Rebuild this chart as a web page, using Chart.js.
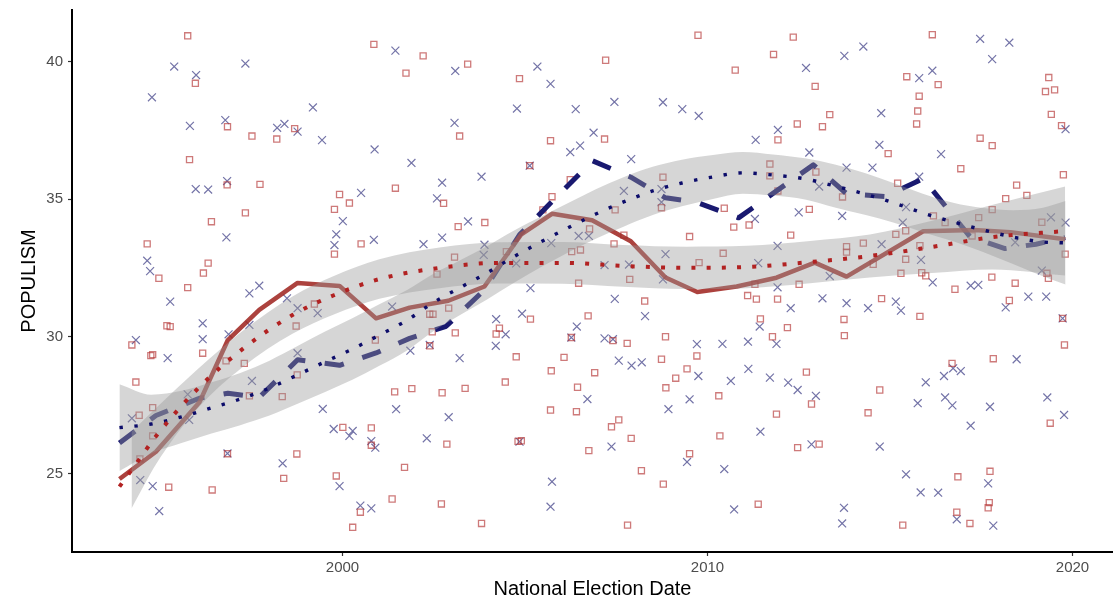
<!DOCTYPE html>
<html><head><meta charset="utf-8">
<script src="https://cdn.jsdelivr.net/npm/chart.js@4.4.1/dist/chart.umd.min.js"></script>
<style>html,body{margin:0;padding:0;background:#fff}canvas{display:block}</style>
</head><body>
<canvas id="c" width="1113" height="599"></canvas>
<script>
const xTicks = [2000, 2010, 2020];
const yTicks = [25, 30, 35, 40];

// red squares (election date, populism)
const redPtX = [1995.76,2000.86,1995.97,1996.85,1997.52,1998.20,1998.69,1995.81,1997.74,1996.84,1999.92,2000.19,1999.78,1997.34,1996.41,1994.65,2000.51,1999.78,1996.32,1996.19,1994.97,1995.76,1995.19,1995.28,1994.23,1994.75,1994.80,1996.17,1994.34,1994.80,1994.43,1994.80,1994.45,1996.81,1997.31,1998.73,1999.23,1997.45,1998.35,1998.76,1996.85,1998.75,1995.24,1996.43,1998.39,1999.83,2000.01,2000.79,2000.79,2000.90,2000.49,2000.28,
2002.21,2001.74,2003.43,2004.85,2007.21,2009.74,2010.76,2003.21,2005.70,2007.18,2005.13,2001.45,2002.77,2006.24,2008.78,2005.74,2005.49,2007.47,2008.74,2010.46,2010.72,2011.14,2003.17,2003.90,2006.77,2009.51,2007.44,2007.71,2003.07,2002.59,2004.49,2006.28,2006.52,2009.77,2010.43,2007.87,2006.47,2011.10,2008.28,
2002.39,2002.48,2002.91,2004.30,2005.15,2006.73,2002.46,2003.09,2002.39,2004.21,2004.76,2006.07,2006.27,2007.41,2007.80,2008.85,2008.74,2009.71,2005.72,2006.91,2009.44,2009.13,2008.86,2006.44,2004.46,2010.31,2001.43,2001.90,2002.73,2003.36,2005.70,2006.41,2007.37,2007.57,2007.91,2002.86,2004.81,2004.90,2006.75,2009.51,2010.34,2001.70,2008.19,2008.79,2001.36,2002.71,2003.81,2007.81,
2012.35,2016.16,2011.81,2012.95,2015.46,2016.32,2015.80,2015.76,2015.73,2019.35,2019.26,2019.51,2019.42,2019.70,2013.35,2012.46,2013.15,2011.93,2017.47,2017.80,2014.95,2016.94,2019.75,2011.71,2011.71,2011.93,2012.97,2013.70,2012.79,2015.21,2018.47,2018.75,2018.17,2017.80,2012.28,2016.19,2016.51,2017.43,2019.16,2015.16,2015.43,2014.27,2013.81,2013.81,2017.25,2015.82,2019.80,2015.43,2014.54,2015.30,2015.87,2015.98,2012.51,2011.30,2017.79,2018.43,2019.30,2019.34,2016.78,2011.34,2011.92,2014.77,2018.27,
2011.45,2012.19,2011.78,2013.74,2013.75,2015.82,2019.73,2019.78,2012.71,2014.72,2012.85,2011.89,2014.40,2016.70,2017.83,2019.39,2012.47,2013.06,2016.86,2017.74,2011.39,2016.83,2017.19,2017.72,2017.69,2015.35];
const redPtY = [40.95,40.64,39.22,37.64,37.30,37.19,37.57,36.44,35.54,35.52,35.17,34.86,34.63,34.50,34.18,33.37,33.37,33.00,32.67,32.31,32.12,31.78,30.39,30.36,29.69,29.30,29.34,29.39,28.34,27.41,27.13,26.38,25.54,29.11,29.02,30.38,31.18,27.84,27.81,28.60,25.73,25.72,24.51,24.41,24.83,24.92,26.69,26.67,26.04,29.87,23.60,23.05,
40.22,39.59,39.92,39.39,40.06,40.97,39.70,37.30,37.13,37.19,36.22,35.40,34.85,35.71,35.80,35.09,34.61,34.61,34.69,34.67,33.98,34.06,34.00,34.15,33.92,33.64,33.37,33.69,32.89,32.27,33.09,33.09,33.15,32.69,33.03,32.08,31.94,31.49,31.29,
30.81,30.81,31.03,30.30,30.63,30.75,30.17,30.13,29.66,30.09,29.26,29.24,29.96,29.85,29.75,29.99,29.17,29.29,28.75,28.68,28.82,28.48,28.13,28.15,28.34,27.84,27.98,28.10,27.95,28.11,27.32,27.26,26.71,26.96,26.29,26.08,26.18,26.20,25.84,25.73,26.38,25.23,25.11,24.62,24.08,23.90,23.19,23.13,
40.90,40.99,40.27,39.11,39.46,39.17,38.75,38.21,37.74,39.43,38.92,38.98,38.09,37.68,38.08,37.74,37.64,37.16,37.22,36.95,36.66,36.11,35.89,36.28,35.85,35.30,35.99,35.08,34.63,35.58,35.51,35.14,35.02,34.62,33.69,34.39,34.15,34.33,34.16,33.72,33.85,33.40,33.27,33.07,33.66,33.31,33.00,32.81,32.63,32.30,32.32,32.21,31.90,31.90,32.16,31.94,32.30,32.12,31.72,31.36,31.36,31.38,31.31,
30.64,30.32,29.99,30.62,30.03,30.73,30.66,29.69,28.70,28.05,27.54,27.17,27.22,29.02,29.19,26.84,25.95,26.08,24.89,25.09,23.89,23.60,23.19,23.95,23.76,23.13];

// blue crosses (election date, populism)
const bluePtX = [1995.39,1997.34,1995.99,1994.78,1999.19,1995.82,1996.79,1998.21,1998.41,1998.77,1999.44,2000.88,1996.84,1995.98,1996.32,2000.51,2000.01,1996.82,1999.83,1999.78,2000.86,1994.65,1994.73,1997.45,1997.72,1995.28,1998.48,1996.17,1994.34,1995.21,1996.17,1996.88,1997.45,1998.77,1999.32,1998.77,1999.46,1997.52,1995.76,1995.80,1994.23,1996.85,1998.36,1999.76,2000.19,2000.28,2000.79,2000.90,1999.92,1994.46,1994.80,1994.98,2000.49,2000.79,
2001.45,2003.09,2005.34,2005.70,2004.78,2006.39,2007.45,2008.78,2009.31,2009.76,2003.07,2001.89,2006.88,2006.24,2006.51,2007.91,2005.13,2002.73,2003.81,2002.59,2007.71,2008.74,2008.74,2003.44,2002.22,2002.73,2003.89,2003.87,2005.72,2006.47,2006.75,2004.76,2007.18,2007.85,2008.85,2008.78,2005.15,2007.46,
2001.36,2004.92,2004.21,2006.42,2008.29,2004.47,2006.27,2007.18,2007.41,2004.20,2002.39,2001.86,2003.21,2007.57,2007.92,2008.20,2009.71,2010.41,2011.11,2009.75,2010.64,2011.12,2006.71,2001.47,2002.91,2008.93,2009.51,2002.31,2004.85,2007.37,2009.44,2010.46,2005.74,2005.70,2010.73,
2017.47,2018.27,2014.27,2013.75,2017.80,2012.70,2015.80,2016.16,2014.76,2011.93,2011.32,2019.81,2014.71,2012.79,2016.40,2013.81,2014.52,2015.80,2013.06,2012.50,2013.69,2011.30,2015.44,2015.35,2019.41,2019.81,2011.92,2014.77,2018.43,2011.39,2015.85,2013.35,2011.92,2016.17,2017.21,2017.42,2019.16,2013.15,2018.79,2019.28,
2012.28,2011.43,2011.89,2013.81,2014.40,2015.30,2015.16,2018.17,2019.73,2011.71,2012.21,2012.47,2012.97,2011.45,2012.85,2014.72,2015.98,2016.48,2016.73,2016.94,2015.76,2016.51,2016.71,2017.74,2018.47,2019.31,2019.77,2017.21,2015.44,2015.84,2016.32,2017.69,2013.74,2013.69,2016.83,2017.83];
const bluePtY = [39.83,39.94,39.52,38.71,38.34,37.67,37.88,37.60,37.74,37.46,37.15,36.81,35.66,35.37,35.35,35.23,34.20,33.61,33.72,33.33,33.52,32.76,32.38,31.57,31.85,31.27,31.39,30.48,29.87,29.21,29.90,30.08,30.42,31.03,30.85,29.39,27.36,28.38,27.89,26.96,27.02,25.74,25.38,26.63,26.38,26.56,26.19,25.95,24.55,24.77,24.55,23.64,23.84,23.74,
40.41,39.67,39.83,39.20,38.30,38.28,38.54,38.53,38.28,38.03,37.78,36.32,37.42,36.71,36.95,36.46,36.22,35.60,35.82,35.03,35.30,35.37,34.89,34.19,33.36,33.60,33.34,32.97,33.40,33.66,33.66,32.66,32.60,32.62,33.00,32.08,31.76,31.37,
31.09,30.83,30.63,30.36,30.74,30.08,29.96,29.93,29.90,29.66,29.69,29.48,29.21,29.12,28.94,29.06,29.72,29.73,29.81,28.56,28.38,28.82,27.72,27.35,27.06,27.35,27.71,26.29,26.17,25.99,25.43,25.17,24.71,23.80,23.70,
40.84,40.70,40.56,40.22,40.10,39.78,39.41,39.68,38.13,37.52,37.16,37.55,36.98,36.70,36.64,36.15,36.15,35.82,35.46,34.52,34.39,34.28,34.71,34.15,34.34,34.15,33.30,33.36,33.43,32.67,32.79,32.20,31.79,31.97,31.85,31.88,32.40,31.39,31.45,31.45,
31.03,30.36,29.73,31.21,31.03,30.94,31.27,31.06,30.66,28.50,28.32,28.05,27.84,26.53,26.07,25.99,28.33,28.56,28.84,28.74,27.57,27.78,27.49,27.44,29.17,27.78,27.14,26.75,24.98,24.32,24.31,24.65,23.76,23.19,23.34,23.11];

// yearly mean lines
const redYearX = [1993.89,1994.89,1996.08,1996.86,1997.72,1998.77,1999.92,2000.92,2001.84,2002.90,2003.89,2004.90,2005.75,2006.84,2007.90,2008.85,2009.72,2010.80,2011.89,2012.94,2013.81,2015.91,2017.30,2018.30,2019.80];
const redYearY = [24.81,25.80,27.60,29.87,30.97,31.95,31.84,30.66,31.05,31.30,31.82,33.72,34.47,34.23,33.47,32.15,31.62,31.82,32.14,32.69,32.18,33.83,33.88,33.80,33.54];
const blueYearX = [1993.89,1994.89,1996.08,1996.86,1997.72,1998.77,1999.92,2000.92,2001.84,2002.84,2003.89,2004.85,2005.77,2006.85,2007.90,2008.85,2009.72,2010.85,2012.90,2013.81,2014.86,2015.91,2017.20,2018.15,2019.00,2019.80];
const blueYearY = [26.12,27.12,27.75,27.93,27.78,29.15,28.95,29.40,29.93,30.37,31.70,33.70,34.95,36.40,35.80,35.05,34.88,34.32,36.25,35.20,35.10,35.75,33.62,33.20,33.36,33.60];

// smooth fits
const redFitX = [1993.89,1994.22,1994.90,1996.00,1997.26,1998.63,1999.78,2001.01,2002.66,2004.30,2006.03,2007.68,2009.43,2011.08,2012.81,2014.45,2016.15,2017.82,2019.80];
const redFitY = [24.53,25.13,26.38,28.05,29.54,30.78,31.51,32.09,32.50,32.68,32.68,32.57,32.50,32.53,32.71,32.93,33.26,33.62,33.84];
const redBandX = [1994.22,1994.90,1996.00,1997.26,1998.63,1999.78,2001.01,2002.66,2004.30,2006.03,2007.68,2009.43,2011.08,2012.81,2014.45,2016.15,2017.82,2019.80];
const redBandLo = [23.73,25.36,27.33,28.88,30.10,30.81,31.37,31.76,31.93,31.92,31.81,31.73,31.76,31.94,32.15,32.31,32.44,32.22];
const redBandHi = [26.53,27.40,28.77,30.20,31.46,32.21,32.81,33.24,33.43,33.44,33.33,33.27,33.30,33.48,33.71,34.21,34.80,35.46];

const blueFitX = [1993.89,1994.76,1995.59,1996.41,1997.20,1998.00,1998.77,1999.51,2000.27,2001.01,2001.78,2002.47,2003.21,2003.95,2004.69,2005.43,2006.17,2006.94,2007.70,2008.50,2009.30,2010.15,2010.97,2011.79,2012.67,2013.49,2014.31,2015.11,2015.90,2016.73,2017.55,2018.37,2019.19,2019.81];
const blueFitY = [26.68,26.81,27.07,27.40,27.72,28.12,28.60,29.07,29.54,30.05,30.60,31.22,31.77,32.31,32.90,33.44,33.95,34.46,34.90,35.30,35.59,35.81,35.96,35.88,35.74,35.48,35.19,34.86,34.50,34.17,33.88,33.62,33.44,33.41];
const blueBandLo = [25.10,25.74,26.12,26.47,26.77,27.12,27.55,27.97,28.42,28.93,29.50,30.17,30.77,31.34,31.95,32.52,33.05,33.56,34.00,34.42,34.74,35.01,35.20,35.13,34.99,34.70,34.43,34.14,33.80,33.47,33.08,32.64,32.19,31.89];
const blueBandHi = [28.26,27.88,28.02,28.33,28.67,29.12,29.65,30.17,30.66,31.17,31.70,32.27,32.77,33.28,33.85,34.36,34.85,35.36,35.80,36.18,36.44,36.61,36.72,36.63,36.49,36.26,35.95,35.58,35.20,34.87,34.68,34.60,34.69,34.93];

const xy = (xs, ys) => xs.map((x, i) => ({x: x, y: ys[i]}));
const BAND = 'rgba(153,153,153,0.4)';
const NONE = 'rgba(0,0,0,0)';

Chart.defaults.font.family = "'Liberation Sans', Arial, Helvetica, sans-serif";

const lineBase = {type: 'line', pointRadius: 0, pointHoverRadius: 0, fill: false};

new Chart(document.getElementById('c'), {
  type: 'line',
  data: {datasets: [
    Object.assign({}, lineBase, {label: 'red fit', data: xy(redFitX, redFitY), order: 0,
      borderColor: '#b22222', borderWidth: 4, borderDash: [4, 11.2], borderCapStyle: 'butt',
      cubicInterpolationMode: 'monotone'}),
    Object.assign({}, lineBase, {label: 'blue fit', data: xy(blueFitX, blueFitY), order: 0,
      borderColor: '#0c0c6a', borderWidth: 3.4, borderDash: [3.4, 11.6], borderCapStyle: 'butt',
      cubicInterpolationMode: 'monotone'}),
    Object.assign({}, lineBase, {label: 'red lo', data: xy(redBandX, redBandLo), order: 1,
      borderColor: NONE, borderWidth: 0, cubicInterpolationMode: 'monotone'}),
    Object.assign({}, lineBase, {label: 'red hi', data: xy(redBandX, redBandHi), order: 1,
      borderColor: NONE, borderWidth: 0, cubicInterpolationMode: 'monotone',
      fill: 2, backgroundColor: BAND}),
    Object.assign({}, lineBase, {label: 'blue lo', data: xy(blueFitX, blueBandLo), order: 1,
      borderColor: NONE, borderWidth: 0, cubicInterpolationMode: 'monotone'}),
    Object.assign({}, lineBase, {label: 'blue hi', data: xy(blueFitX, blueBandHi), order: 1,
      borderColor: NONE, borderWidth: 0, cubicInterpolationMode: 'monotone',
      fill: 4, backgroundColor: BAND}),
    Object.assign({}, lineBase, {label: 'red yearly', data: xy(redYearX, redYearY), order: 2,
      borderColor: 'rgba(160,40,35,0.88)', borderWidth: 4.5, tension: 0,
      borderJoinStyle: 'round', borderCapStyle: 'butt'}),
    Object.assign({}, lineBase, {label: 'blue yearly', data: xy(blueYearX, blueYearY), order: 2,
      borderColor: '#191970', borderWidth: 5, tension: 0, borderDash: [19.5, 19.5],
      borderCapStyle: 'butt', borderJoinStyle: 'round'}),
    {type: 'line', label: 'red points', data: xy(redPtX, redPtY), order: 3, showLine: false,
      pointStyle: 'rect', pointRadius: 4.3, pointHoverRadius: 4.3, pointBorderWidth: 1.3,
      pointBorderColor: 'rgba(180,50,50,0.65)', pointBackgroundColor: NONE},
    {type: 'line', label: 'blue points', data: xy(bluePtX, bluePtY), order: 3, showLine: false,
      pointStyle: 'crossRot', pointRadius: 5.6, pointHoverRadius: 5.6, pointBorderWidth: 1.2,
      pointBorderColor: 'rgba(40,40,120,0.65)', pointBackgroundColor: NONE}
  ]},
  options: {
    responsive: false,
    animation: false,
    events: [],
    layout: {autoPadding: false, padding: {top: 10, right: 0, bottom: 0, left: 0}},
    plugins: {legend: {display: false}, tooltip: {enabled: false}, filler: {propagate: false}},
    scales: {
      x: {
        type: 'linear', min: 1992.59, max: 2021.11,
        afterBuildTicks: s => { s.ticks = xTicks.map(v => ({value: v})); },
        afterFit: s => { s.height = 47; s.paddingLeft = 0; s.paddingRight = 0; },
        grid: {drawOnChartArea: false, drawTicks: true, tickLength: 4, tickColor: '#333', tickWidth: 1.2},
        border: {display: true, color: '#000', width: 2},
        ticks: {color: '#4d4d4d', font: {size: 15}, padding: 3, maxRotation: 0, autoSkip: false,
          callback: v => String(v)},
        title: {display: true, text: 'National Election Date', color: '#000',
          font: {size: 20, lineHeight: 1}, padding: {top: 0, bottom: 0}}
      },
      y: {
        type: 'linear', min: 22.15, max: 41.89,
        afterBuildTicks: s => { s.ticks = yTicks.map(v => ({value: v})); },
        afterFit: s => { s.width = 72; s.paddingTop = 0; s.paddingBottom = 0; },
        grid: {drawOnChartArea: false, drawTicks: true, tickLength: 4, tickColor: '#333', tickWidth: 1.2},
        border: {display: true, color: '#000', width: 2},
        ticks: {color: '#4d4d4d', font: {size: 15}, padding: 5, callback: v => String(v)},
        title: {display: true, text: 'POPULISM', color: '#000',
          font: {size: 20, lineHeight: 1}, padding: {top: 19, bottom: 0}}
      }
    }
  }
});
</script>
</body></html>
